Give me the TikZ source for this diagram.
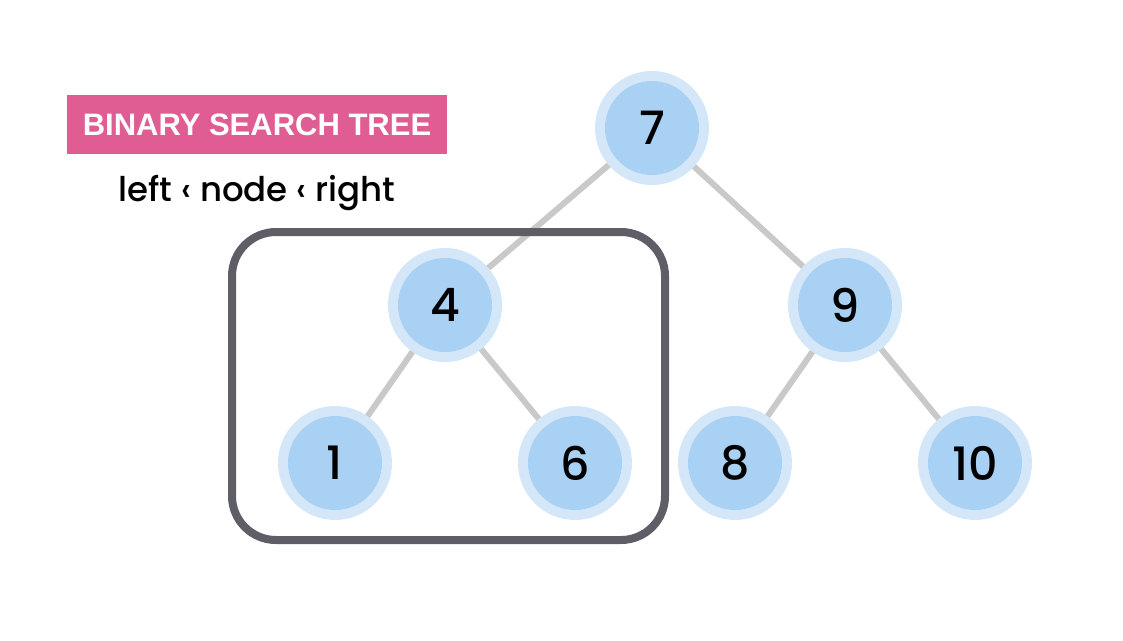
\documentclass[tikz,border=0pt]{standalone}
\usepackage{fontspec}
\setmainfont{Poppins}
\newfontfamily\medfont{Poppins Medium}
\newfontfamily\labelfont{Liberation Sans}
\definecolor{pinkc}{HTML}{E05D93}
\definecolor{boxc}{HTML}{5E5F66}
\definecolor{edgec}{HTML}{C9C9C9}
\definecolor{outerc}{HTML}{D4E7F8}
\definecolor{innerc}{HTML}{A8D1F4}
\begin{document}
\begin{tikzpicture}[x=1pt,y=-1pt,
  tnode/.style={circle,minimum size=114pt,inner sep=0pt,fill=outerc,
    path picture={\fill[innerc] (path picture bounding box.center) circle (47pt);},
    font=\medfont\fontsize{46}{46}\selectfont},
  edge/.style={edgec,line width=6pt},
  group/.style={boxc,line width=8pt,rounded corners=44pt}]
\useasboundingbox (0,0) rectangle (1123,640);
\node[fill=pinkc,minimum width=380pt,minimum height=59pt,inner sep=0pt,
  text=white,font=\labelfont\bfseries\fontsize{31}{31}\selectfont] (title) at (257,124.5) {BINARY SEARCH TREE};
\node[font=\medfont\fontsize{34}{34}\selectfont,inner sep=0pt] (rule) at (257,193) {left ‹ node ‹ right};
\coordinate (c7) at (652,128);
\coordinate (c4) at (445,305);
\coordinate (c9) at (845,305);
\coordinate (c1) at (335,463);
\coordinate (c6) at (575,463);
\coordinate (c8) at (735,463);
\coordinate (c10) at (975,463);
\draw[edge] (c7) -- (c4);
\draw[edge] (c7) -- (c9);
\draw[edge] (c4) -- (c1);
\draw[edge] (c4) -- (c6);
\draw[edge] (c9) -- (c8);
\draw[edge] (c9) -- (c10);
\node[tnode] (n7) at (c7) {7};
\node[tnode] (n4) at (c4) {4};
\node[tnode] (n9) at (c9) {9};
\node[tnode] (n1) at (c1) {1};
\node[tnode] (n6) at (c6) {6};
\node[tnode] (n8) at (c8) {8};
\node[tnode] (n10) at (c10) {10};
\coordinate (bx1) at (232,232);
\coordinate (bx2) at (665,540);
\draw[group] (bx1) rectangle (bx2);
\end{tikzpicture}
\end{document}
